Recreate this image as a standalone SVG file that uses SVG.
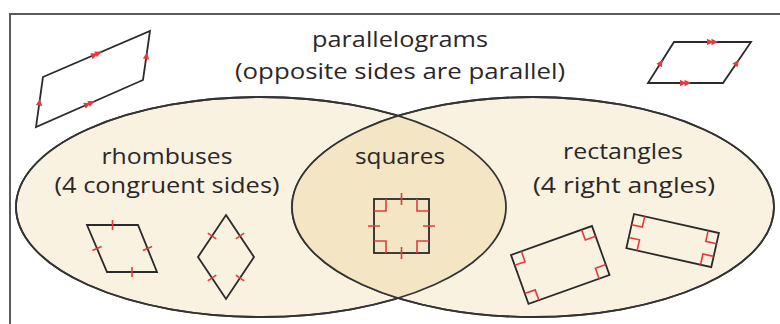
<svg xmlns="http://www.w3.org/2000/svg" width="780" height="324" viewBox="0 0 780 324">
  <style>
    .frame { fill: #ffffff; stroke: #5a5a5a; stroke-width: 2; }
    .set { fill: #f9f2e1; stroke: #333333; stroke-width: 1.8; }
    .setline { fill: none; stroke: #333333; stroke-width: 1.8; }
    .lens { fill: #f4e5c4; stroke: none; }
    .shape { fill: none; stroke: #2a2a2a; stroke-width: 1.8; stroke-linejoin: miter; }
    .tick { fill: none; stroke: #e8383d; stroke-width: 1.6; }
    .ra { fill: none; stroke: #e8383d; stroke-width: 1.6; }
    .arr { fill: #e8383d; stroke: none; }
    .lbl { font-family: "Open Sans", "Noto Sans", "Liberation Sans", sans-serif; font-size: 21px; fill: #2b2728; text-anchor: middle; }
  </style>
  <defs>
    <path id="a1" d="M -3.5,-3.2 L 3,0 L -3.5,3.2 Z"/>
    <g id="a2">
      <path d="M -5.5,-3.2 L 1,0 L -5.5,3.2 Z"/>
      <path d="M -1,-3.2 L 5.5,0 L -1,3.2 Z"/>
    </g>
    <clipPath id="clipLeft">
      <ellipse cx="261" cy="207" rx="245" ry="110"/>
    </clipPath>
  </defs>

  <rect class="frame" x="10" y="14" width="800" height="400"/>

  <g id="set-rhombuses">
    <ellipse class="set" cx="261" cy="207" rx="245" ry="110"/>
  </g>
  <g id="set-rectangles">
    <ellipse class="set" cx="533" cy="207" rx="241" ry="110"/>
  </g>
  <g id="set-squares">
    <ellipse class="lens" cx="533" cy="207" rx="241" ry="110" clip-path="url(#clipLeft)"/>
    <ellipse class="setline" cx="261" cy="207" rx="245" ry="110"/>
    <ellipse class="setline" cx="533" cy="207" rx="241" ry="110"/>
  </g>

  <g id="labels">
    <text class="lbl" x="400" y="47" textLength="176" lengthAdjust="spacingAndGlyphs">parallelograms</text>
    <text class="lbl" x="400" y="79" textLength="330" lengthAdjust="spacingAndGlyphs">(opposite sides are parallel)</text>
    <text class="lbl" x="167" y="164" textLength="131" lengthAdjust="spacingAndGlyphs">rhombuses</text>
    <text class="lbl" x="167" y="193" textLength="225" lengthAdjust="spacingAndGlyphs">(4 congruent sides)</text>
    <text class="lbl" x="400" y="164" textLength="90" lengthAdjust="spacingAndGlyphs">squares</text>
    <text class="lbl" x="623" y="159" textLength="120" lengthAdjust="spacingAndGlyphs">rectangles</text>
    <text class="lbl" x="624" y="193" textLength="182" lengthAdjust="spacingAndGlyphs">(4 right angles)</text>
  </g>

  <g id="parallelogram-left">
    <polygon class="shape" points="43,77 150,31 143,80 36,127"/>
    <g class="arr">
      <use href="#a2" transform="translate(96.5,54) rotate(-23.5)"/>
      <use href="#a2" transform="translate(89.5,103.5) rotate(-23.7)"/>
      <use href="#a1" transform="translate(39.5,102) rotate(-82)"/>
      <use href="#a1" transform="translate(146.5,55.5) rotate(-82)"/>
    </g>
  </g>

  <g id="parallelogram-right">
    <polygon class="shape" points="674,42 751,42 723,83 648,83"/>
    <g class="arr">
      <use href="#a2" transform="translate(712.5,42)"/>
      <use href="#a2" transform="translate(685.5,83)"/>
      <use href="#a1" transform="translate(661,62.5) rotate(-57.6)"/>
      <use href="#a1" transform="translate(737,62.5) rotate(-56)"/>
    </g>
  </g>

  <g id="rhombus-1">
    <polygon class="shape" points="87,225 138,225 157,272 107,272"/>
    <path class="tick" d="M112.5,220 V230 M132,267 V277 M92.4,250.4 L101.6,246.6 M142.9,250.4 L152.1,246.6"/>
  </g>

  <g id="rhombus-2">
    <polygon class="shape" points="226,215 254,257 226,299 198,257"/>
    <path class="tick" d="M235.8,238.8 L244.2,233.2 M207.8,233.2 L216.2,238.8 M235.8,275.2 L244.2,280.8 M207.8,280.8 L216.2,275.2"/>
  </g>

  <g id="square">
    <rect class="shape" x="374" y="199" width="55" height="54"/>
    <path class="tick" d="M401.5,193 V205 M401.5,247 V259 M368,226 H380 M423,226 H435"/>
    <path class="ra" d="M386,199 V211 H374 M417,199 V211 H429 M417,253 V241 H429 M386,253 V241 H374"/>
  </g>

  <g id="rectangle-1" transform="translate(511,255) rotate(-19.7)">
    <rect class="shape" x="0" y="0" width="86" height="52"/>
    <path class="ra" d="M11,0 V11 H0 M75,0 V11 H86 M75,52 V41 H86 M11,52 V41 H0"/>
  </g>

  <g id="rectangle-2" transform="translate(634,214) rotate(12.6)">
    <rect class="shape" x="0" y="0" width="87" height="35"/>
    <path class="ra" d="M11,0 V11 H0 M76,0 V11 H87 M76,35 V24 H87 M11,35 V24 H0"/>
  </g>
</svg>
